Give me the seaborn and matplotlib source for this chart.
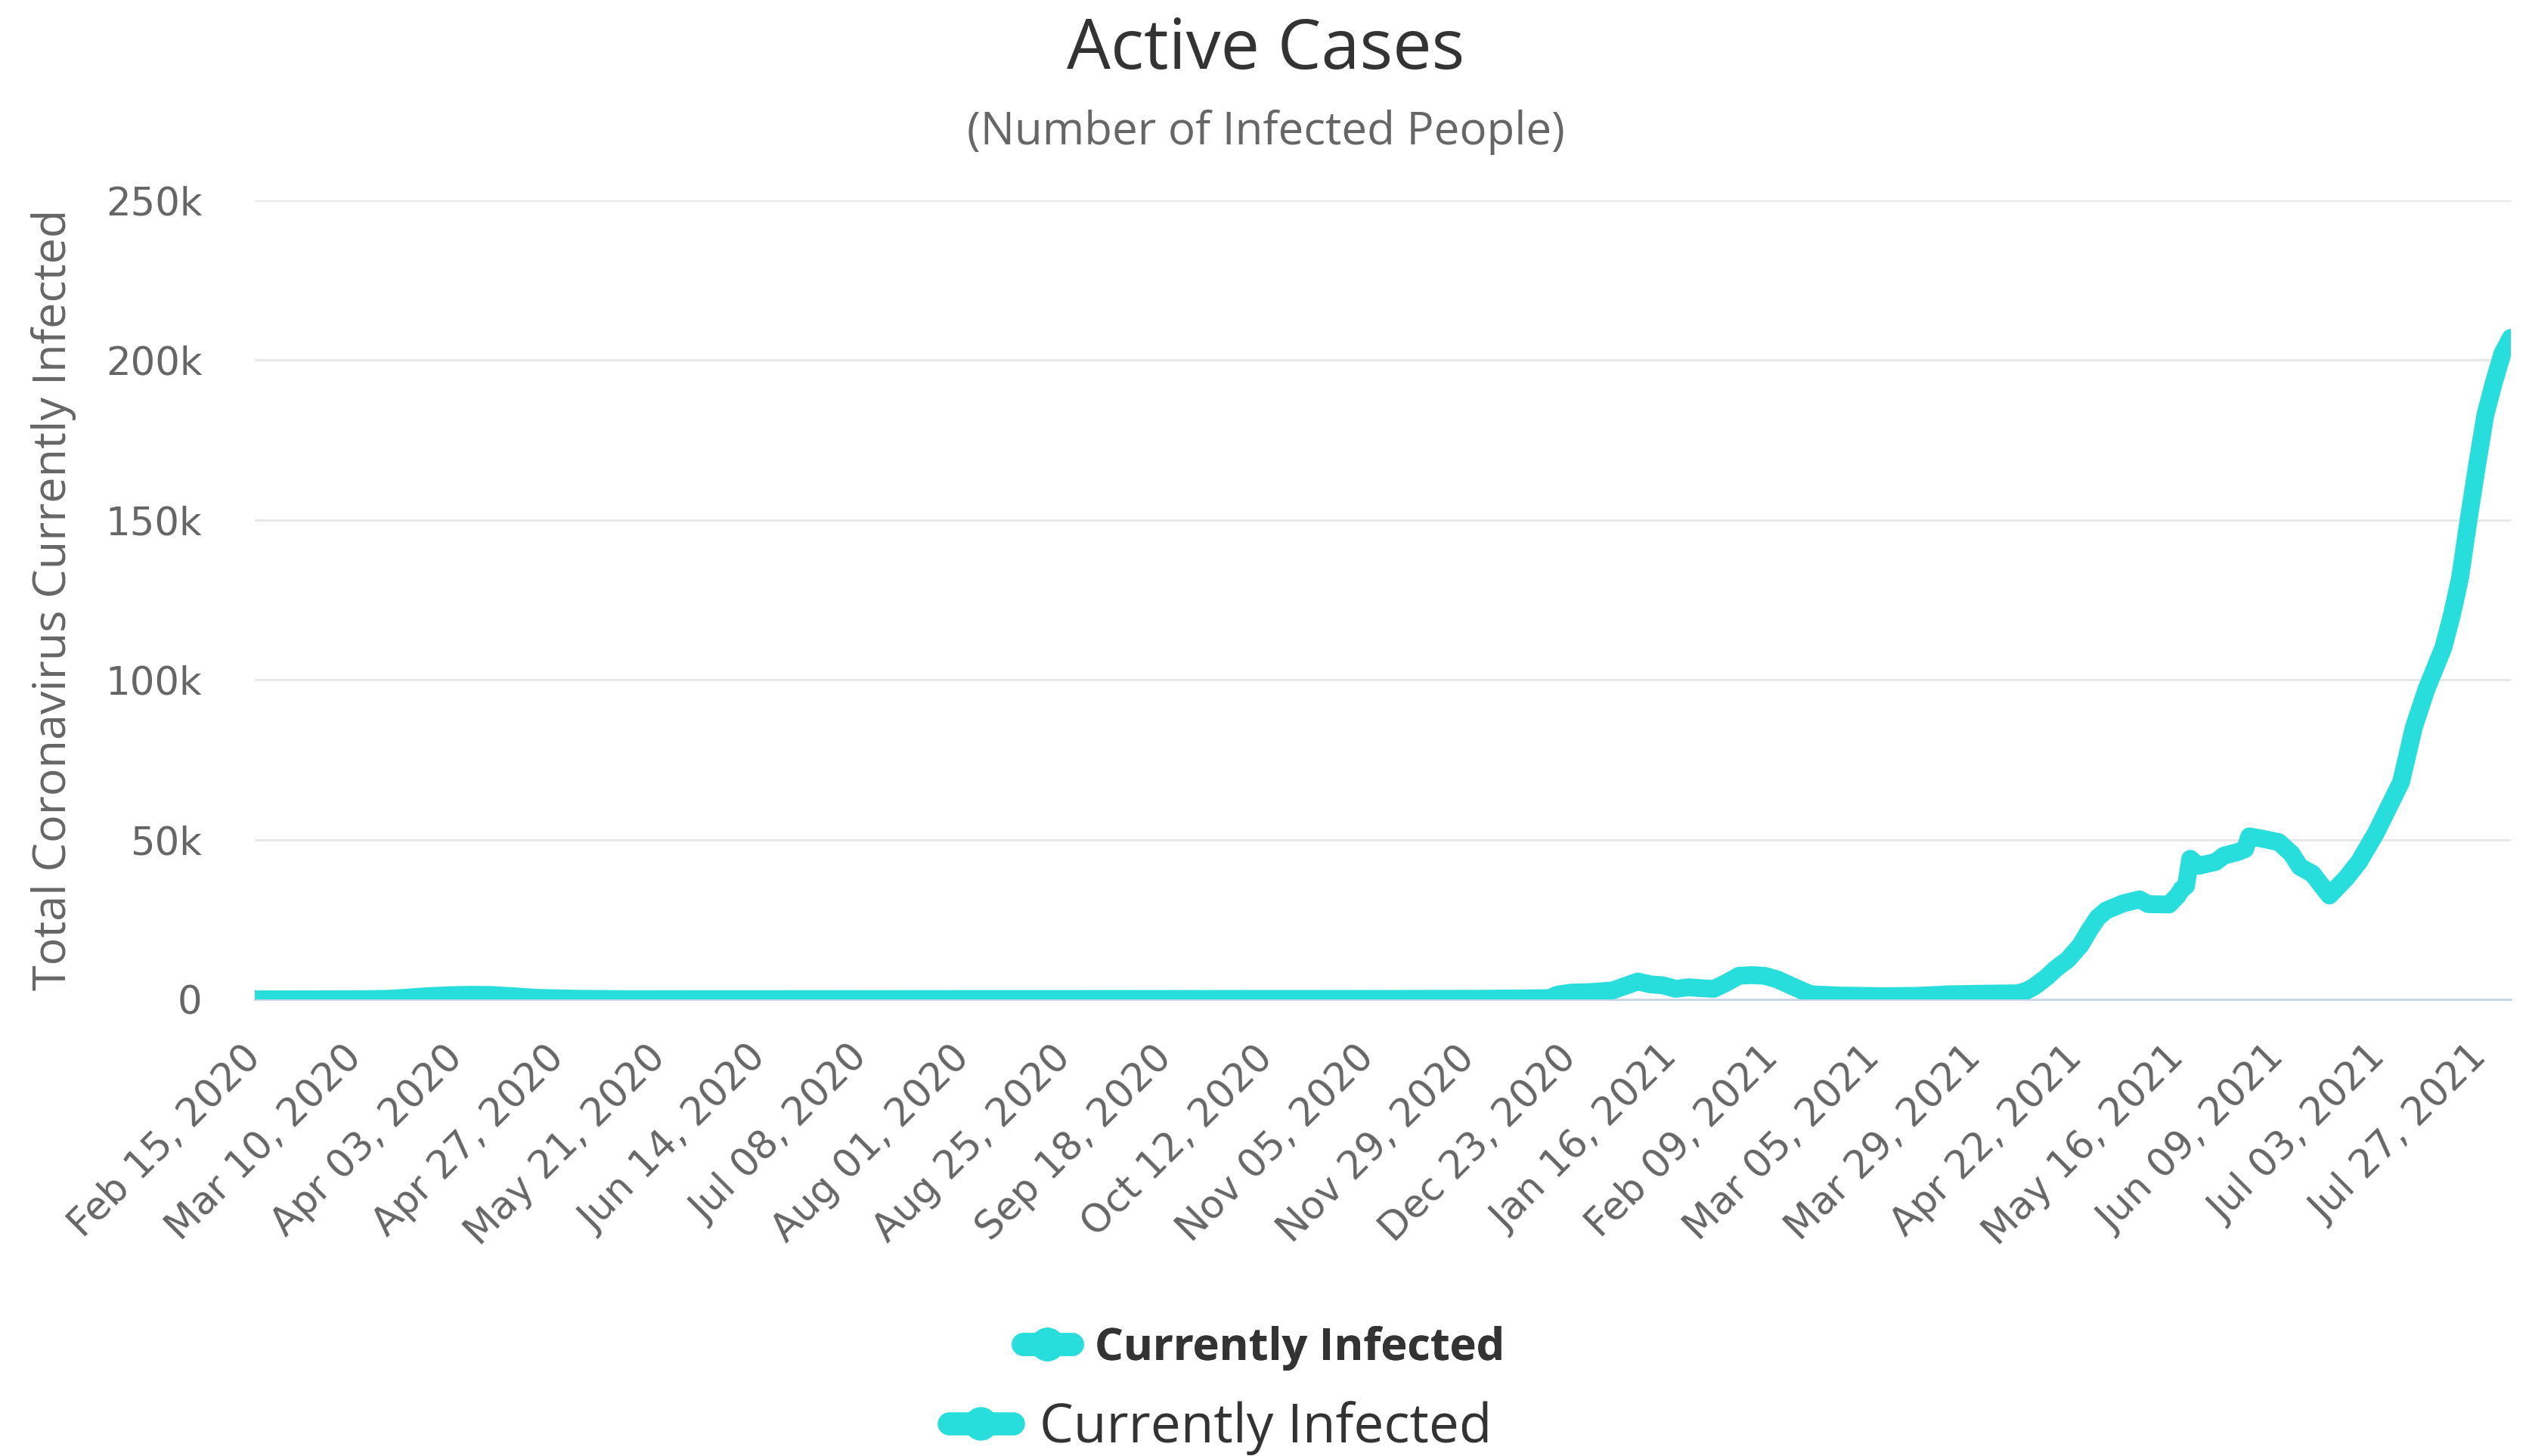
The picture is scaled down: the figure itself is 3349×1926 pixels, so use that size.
import pandas as pd
import matplotlib.pyplot as plt
from matplotlib.lines import Line2D
from matplotlib.ticker import FuncFormatter
import seaborn as sns

# values (active cases)
dates = ["2020-02-15", "2020-03-01", "2020-03-12", "2020-03-18", "2020-03-22", "2020-03-27",
         "2020-04-01", "2020-04-06", "2020-04-11", "2020-04-16", "2020-04-22", "2020-05-01",
         "2020-05-13", "2020-06-14", "2020-08-01", "2020-09-18", "2020-10-12", "2020-11-05",
         "2020-12-01", "2020-12-12", "2020-12-18", "2020-12-20", "2020-12-23", "2020-12-28",
         "2021-01-02", "2021-01-05", "2021-01-08", "2021-01-11", "2021-01-14", "2021-01-17",
         "2021-01-20", "2021-01-23", "2021-01-26", "2021-01-29", "2021-02-01", "2021-02-04",
         "2021-02-07", "2021-02-10", "2021-02-14", "2021-02-18", "2021-02-25", "2021-03-07",
         "2021-03-15", "2021-03-23", "2021-04-01", "2021-04-08", "2021-04-10", "2021-04-12",
         "2021-04-15", "2021-04-17", "2021-04-20", "2021-04-23", "2021-04-25", "2021-04-27",
         "2021-04-29", "2021-05-03", "2021-05-07", "2021-05-09", "2021-05-14", "2021-05-16",
         "2021-05-17", "2021-05-18", "2021-05-19", "2021-05-21", "2021-05-25", "2021-05-27",
         "2021-05-30", "2021-06-01", "2021-06-02", "2021-06-05", "2021-06-09", "2021-06-12",
         "2021-06-14", "2021-06-17", "2021-06-21", "2021-06-25", "2021-06-28", "2021-07-02",
         "2021-07-05", "2021-07-08", "2021-07-11", "2021-07-14", "2021-07-18", "2021-07-20",
         "2021-07-22", "2021-07-24", "2021-07-26", "2021-07-28", "2021-07-30", "2021-08-01",
         "2021-08-03"]
active = [20, 30, 70, 200, 550, 1000,
          1300, 1450, 1400, 1000, 500, 200,
          80, 90, 110, 130, 160, 150,
          200, 300, 400, 1500, 2100, 2300,
          2800, 4200, 5600, 4700, 4400, 3300,
          3800, 3500, 3300, 5200, 7400, 7600,
          7400, 6300, 3900, 1600, 1200, 1000,
          1100, 1600, 1800, 1900, 2600, 4000,
          7000, 9500, 12500, 17000, 21500, 25500,
          27800, 30000, 31300, 29800, 29700, 32500,
          34500, 35500, 44000, 41800, 43000, 45000,
          46000, 47000, 51000, 50300, 49200, 45600,
          41500, 39300, 32500, 38000, 43000, 52000,
          60000, 68000, 85000, 97000, 110000, 120000,
          132000, 150000, 167000, 183000, 193000, 202000,
          207000]

tick_labels = ["Feb 15, 2020", "Mar 10, 2020", "Apr 03, 2020", "Apr 27, 2020", "May 21, 2020",
               "Jun 14, 2020", "Jul 08, 2020", "Aug 01, 2020", "Aug 25, 2020", "Sep 18, 2020",
               "Oct 12, 2020", "Nov 05, 2020", "Nov 29, 2020", "Dec 23, 2020", "Jan 16, 2021",
               "Feb 09, 2021", "Mar 05, 2021", "Mar 29, 2021", "Apr 22, 2021", "May 16, 2021",
               "Jun 09, 2021", "Jul 03, 2021", "Jul 27, 2021"]
y_ticks = [0, 50000, 100000, 150000, 200000, 250000]

series_name = "Currently Infected"
line_color = "#27dedc"

df = pd.DataFrame({"date": pd.to_datetime(dates), "active": active})

sns.set_style("white")
plt.rcParams["font.family"] = ["DejaVu Sans"]

fig = plt.figure(figsize=(16.745, 9.63), dpi=200)
ax = fig.add_axes([0.1006, 0.3136, 0.891, 0.5488])

sns.lineplot(data=df, x="date", y="active", ax=ax, color=line_color, linewidth=8.5,
             solid_joinstyle="round", solid_capstyle="round", zorder=3)

ax.set_ylim(0, 250000)
ax.set_xlim(df["date"].iloc[0], df["date"].iloc[-1])
ax.set_yticks(y_ticks)
ax.yaxis.set_major_formatter(FuncFormatter(lambda v, p: "0" if v == 0 else f"{int(v / 1000)}k"))
tick_dates = pd.to_datetime(tick_labels, format="%b %d, %Y")
ax.set_xticks(tick_dates)
ax.set_xticklabels(tick_labels, rotation=45, ha="right", va="center", rotation_mode="anchor")

ax.grid(axis="y", color="#e6e6e6", linewidth=1.0)
ax.grid(axis="x", visible=False)
for s in ["top", "right", "left"]:
    ax.spines[s].set_visible(False)
ax.spines["bottom"].set_color("#ccd6eb")
ax.spines["bottom"].set_linewidth(1.1)
ax.spines["bottom"].set_zorder(2)
ax.tick_params(axis="both", length=0, labelsize=18.5, labelcolor="#666666")
ax.tick_params(axis="x", pad=25)
ax.tick_params(axis="y", pad=25)

ax.set_xlabel("")
ax.set_ylabel("Total Coronavirus Currently Infected", fontsize=22, color="#666666",
              family="Open Sans", labelpad=14)

fig.text(0.5, 0.965, "Active Cases", ha="center", va="center", fontsize=33,
         color="#333333", family="Open Sans")
fig.text(0.5, 0.909, "(Number of Infected People)", ha="center", va="center", fontsize=21.6,
         color="#666666", family="Open Sans")

handle = Line2D([], [], color=line_color, linewidth=11, marker="o", markersize=15)
leg1 = fig.legend(handles=[handle], labels=[series_name], loc="center", bbox_to_anchor=(0.499, 0.074),
                  frameon=False, handlelength=1.1, handletextpad=0.5,
                  prop={"family": "Open Sans", "weight": "bold", "size": 21.4})
for t in leg1.get_texts():
    t.set_color("#333333")
fig.add_artist(leg1)
leg2 = fig.legend(handles=[handle], labels=[series_name], loc="center", bbox_to_anchor=(0.482, 0.019),
                  frameon=False, handlelength=1.2, handletextpad=0.5,
                  prop={"family": "Open Sans", "size": 25.6})
for t in leg2.get_texts():
    t.set_color("#333333")

fig.savefig("out.png", dpi=200, facecolor="white")
